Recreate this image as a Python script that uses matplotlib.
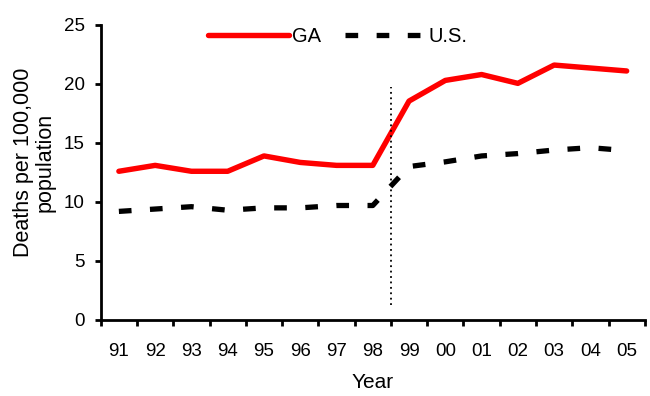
import matplotlib
matplotlib.use("Agg")
import matplotlib.pyplot as plt
import numpy as np

years = ["91", "92", "93", "94", "95", "96", "97", "98", "99", "00", "01", "02", "03", "04", "05"]
ga = [12.6, 13.1, 12.6, 12.6, 13.9, 13.35, 13.1, 13.1, 18.55, 20.3, 20.8, 20.05, 21.6, 21.35, 21.1]
us = [9.2, 9.4, 9.6, 9.3, 9.5, 9.5, 9.7, 9.7, 13.0, 13.4, 13.9, 14.1, 14.4, 14.6, 14.35]
yticks = [0, 5, 10, 15, 20, 25]

plt.rcParams['font.family'] = ['Liberation Sans', 'DejaVu Sans']

fig = plt.figure(figsize=(6.5, 3.96), dpi=100)
ax = fig.add_axes([0.155, 0.192, 0.837, 0.745])

x = np.arange(len(years))
ax.plot(x, ga, color='#ff0000', lw=3.9, solid_capstyle='round', solid_joinstyle='round', label='GA')
ax.plot(x, us, color='black', lw=3.8, dashes=(2.4, 3.5), dash_capstyle='butt', label='U.S.')
ax.vlines(7.5, 1.3, 19.7, colors='black', linestyles=(0, (1, 2)), lw=1.3)

ax.set_xlim(-0.5, len(years) - 0.5)
ax.set_ylim(0, 25)
ax.set_yticks(yticks)
ax.set_xticks(np.arange(-0.5, len(years), 1.0), minor=True)
ax.set_xticks(x)
ax.set_xticklabels(years)
ax.tick_params(axis='x', which='major', length=0, labelsize=13.5, pad=16.5)
ax.tick_params(axis='x', which='minor', length=4, width=2.0, direction='out')
ax.tick_params(axis='y', length=4.5, width=2.0, direction='out', labelsize=13.5, pad=7)

for s in ['top', 'right']:
    ax.spines[s].set_visible(False)
for s in ['left', 'bottom']:
    ax.spines[s].set_linewidth(2.0)

ax.set_xlabel('Year', fontsize=15, labelpad=9.5)
ax.set_ylabel('Deaths per 100,000\npopulation', fontsize=15.5, linespacing=1.02)
ax.yaxis.set_label_coords(-0.083, 0.535)

leg = ax.legend(loc='center', bbox_to_anchor=(0.436, 0.96), ncol=2, frameon=False,
                fontsize=14.5, handlelength=4.0, handletextpad=0.15, columnspacing=1.2)

fig.savefig('out.png', dpi=100)
